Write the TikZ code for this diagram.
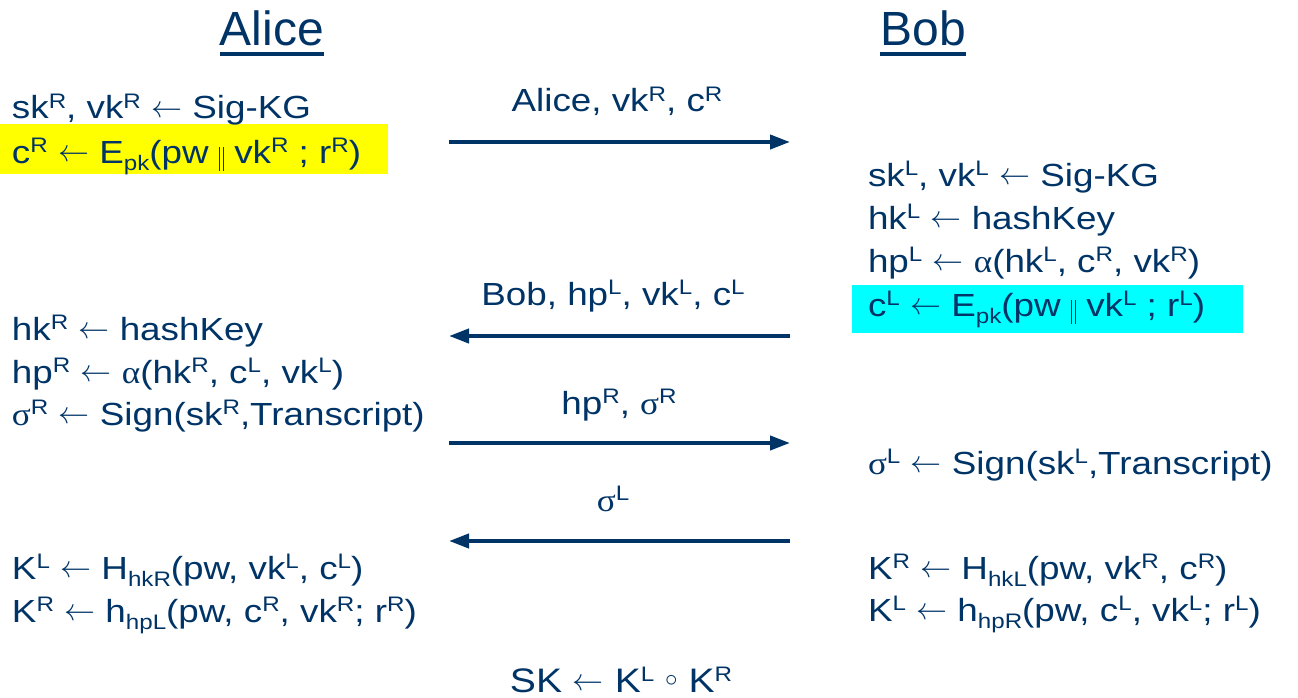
\documentclass[tikz,border=0pt]{standalone}
\usepackage{fontspec}
\setmainfont{Liberation Sans}
\newfontfamily\bodyfont[FakeStretch=1.15]{Liberation Sans}
\newfontfamily\gk[FakeStretch=1.1]{Liberation Serif}
\usetikzlibrary{arrows.meta}
\definecolor{ink}{RGB}{0,51,102}
\definecolor{hlyellow}{RGB}{255,255,0}
\definecolor{hlcyan}{RGB}{0,255,255}
% raised / lowered small text
\newcommand\up[1]{\raisebox{0.32em}{\fontsize{21}{21}\selectfont #1}}
\newcommand\dn[1]{\raisebox{-0.22em}{\fontsize{21}{21}\selectfont #1}}
% math symbols taken at 10pt and enlarged to a fixed size
\newcommand\lto{{\fontsize{10}{12}\selectfont\raisebox{1.5pt}{\scalebox{3.1}{$\leftarrow$}}}}
\newcommand\comp{{\fontsize{10}{12}\selectfont\raisebox{5.5pt}{\scalebox{2.5}{$\circ$}}}}
% concatenation: two thin bars
\newcommand\concat{\raisebox{-8pt}{\rule{1.3pt}{24pt}\hspace{2.6pt}\rule{1.3pt}{24pt}}}
\newcommand\gal{{\gk α}}
\newcommand\gsig{{\gk σ}}
\begin{document}
\begin{tikzpicture}[x=1pt,y=-1pt,
  every node/.style={inner sep=0pt,outer sep=0pt,text=ink},
  body/.style={anchor=base west,font=\bodyfont\fontsize{32}{40}\selectfont},
  msg/.style={anchor=base,font=\bodyfont\fontsize{32}{40}\selectfont},
  result/.style={anchor=base,font=\bodyfont\fontsize{34}{40}\selectfont},
  title/.style={anchor=base,font=\fontsize{48}{56}\selectfont},
  flow/.style={draw=ink,line width=4pt,-{Triangle[length=20pt,width=14pt]}},
  uline/.style={draw=ink,line width=3.5pt}]
\useasboundingbox (0,0) rectangle (1298,698);

% highlighted lines
\fill[hlyellow] (0,124) rectangle (388,174);
\fill[hlcyan] (852,285) rectangle (1243,333);

% party names
\node[title] (alice) at (272,46) {Alice};
\node[title] (bob) at (923,46) {Bob};
\draw[uline] ([yshift=-8pt]alice.base west) -- ([yshift=-8pt]alice.base east);
\draw[uline] ([yshift=-8pt]bob.base west) -- ([yshift=-8pt]bob.base east);

% Alice's computations
\node[body] (l1) at (12,119) {sk\up{R}, vk\up{R} \lto{} Sig-KG};
\node[body] (l2) at (12,163) {c\up{R} \lto{} E\dn{pk}(pw \concat{} vk\up{R} ; r\up{R})};
\node[body] (l3) at (12,340) {hk\up{R} \lto{} hashKey};
\node[body] (l4) at (12,383) {hp\up{R} \lto{} \gal(hk\up{R}, c\up{L}, vk\up{L})};
\node[body] (l5) at (12,425) {\gsig\up{R} \lto{} Sign(sk\up{R},Transcript)};
\node[body] (l6) at (12,579) {K\up{L} \lto{} H\dn{hkR}(pw, vk\up{L}, c\up{L})};
\node[body] (l7) at (12,622) {K\up{R} \lto{} h\dn{hpL}(pw, c\up{R}, vk\up{R}; r\up{R})};

% Bob's computations
\node[body] (r1) at (868,186) {sk\up{L}, vk\up{L} \lto{} Sig-KG};
\node[body] (r2) at (868,229) {hk\up{L} \lto{} hashKey};
\node[body] (r3) at (868,272) {hp\up{L} \lto{} \gal(hk\up{L}, c\up{R}, vk\up{R})};
\node[body] (r4) at (868,316) {c\up{L} \lto{} E\dn{pk}(pw \concat{} vk\up{L} ; r\up{L})};
\node[body] (r5) at (868,474) {\gsig\up{L} \lto{} Sign(sk\up{L},Transcript)};
\node[body] (r6) at (868,579) {K\up{R} \lto{} H\dn{hkL}(pw, vk\up{R}, c\up{R})};
\node[body] (r7) at (868,621) {K\up{L} \lto{} h\dn{hpR}(pw, c\up{L}, vk\up{L}; r\up{L})};

% message flow
\coordinate (a1) at (449,142); \coordinate (b1) at (790,142);
\coordinate (a2) at (449,336); \coordinate (b2) at (790,336);
\coordinate (a3) at (449,443); \coordinate (b3) at (790,443);
\coordinate (a4) at (449,541); \coordinate (b4) at (790,541);
\draw[flow] (a1) -- (b1);
\draw[flow] (b2) -- (a2);
\draw[flow] (a3) -- (b3);
\draw[flow] (b4) -- (a4);
\node[msg] (m1) at (617,112) {Alice, vk\up{R}, c\up{R}};
\node[msg] (m2) at (613,305) {Bob, hp\up{L}, vk\up{L}, c\up{L}};
\node[msg] (m3) at (619,414) {hp\up{R}, \gsig\up{R}};
\node[msg] (m4) at (613,511) {\gsig\up{L}};

% session key
\node[result] (sk) at (621,692) {SK \lto{} K\up{L} \comp{} K\up{R}};
\end{tikzpicture}
\end{document}
